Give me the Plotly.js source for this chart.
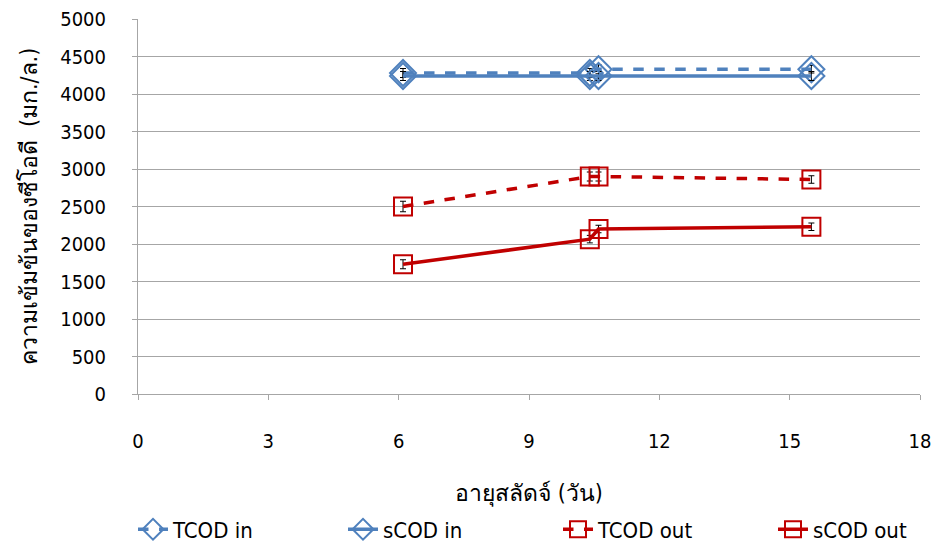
<!DOCTYPE html>
<html>
<head>
<meta charset="utf-8">
<script src="https://cdn.plot.ly/plotly-3.0.1.min.js"></script>
<style>html,body{margin:0;padding:0;background:#fff}#chart{width:936px;height:543px}</style>
</head>
<body>
<div id="chart"></div>
<script>
// Sludge age (days)
const sludgeAge = [6.1, 10.4, 10.6, 15.5];
const tcodIn  = [4280, 4280, 4330, 4330];
const scodIn  = [4240, 4240, 4240, 4240];
const tcodOut = [2500, 2900, 2900, 2860];
const scodOut = [1730, 2065, 2200, 2230];
const tcodInErr  = [60, 60, 60, 50];
const scodInErr  = [60, 60, 60, 60];
const tcodOutErr = [70, 60, 60, 50];
const scodOutErr = [60, 50, 50, 50];
const seriesNames = ['TCOD in', 'sCOD in', 'TCOD out', 'sCOD out'];
const xTicks = [0, 3, 6, 9, 12, 15, 18];
const yTicks = [0, 500, 1000, 1500, 2000, 2500, 3000, 3500, 4000, 4500, 5000];

const blue = '#4F81BD', red = '#C00000';
const FONT = 'Tahoma, "DejaVu Sans Condensed", "DejaVu Sans", sans-serif';
function err(a){return {type:'data', array:a, visible:true, color:'#000', thickness:1, width:3};}
function tr(y, e, name, color, dash, sym, size, lg){
  return {x: sludgeAge, y: y, name: name, type:'scatter', mode:'lines+markers', legend: lg,
    line:{color:color, width:3.5, dash:dash},
    marker:{symbol:sym, size:size, color:color, line:{color:color, width:2}},
    error_y: err(e)};
}
const data = [
  tr(tcodIn, tcodInErr, seriesNames[0], blue, 'dash', 'diamond-open', 20, 'legend'),
  tr(scodIn, scodInErr, seriesNames[1], blue, 'solid', 'diamond-open', 20, 'legend2'),
  tr(tcodOut, tcodOutErr, seriesNames[2], red, 'dash', 'square-open', 18, 'legend3'),
  tr(scodOut, scodOutErr, seriesNames[3], red, 'solid', 'square-open', 18, 'legend4')
];
function lg(px){
  return {orientation:'h', xref:'container', yref:'container', x:px/936, xanchor:'left',
    y:0.025, yanchor:'middle', font:{size:22}};
}
const layout = {
  width: 936, height: 543,
  margin: {l:138, r:16, t:19, b:149, autoexpand:false},
  paper_bgcolor:'#fff', plot_bgcolor:'#fff',
  font: {family: FONT, size: 20, color:'#000'},
  showlegend: true,
  legend: lg(133), legend2: lg(343), legend3: lg(558), legend4: lg(773),
  xaxis: {range:[0,18], tickvals:xTicks, ticktext:xTicks.map(String), showgrid:false,
    zeroline:false, showline:true, linecolor:'#A6A6A6', linewidth:1,
    ticks:'outside', ticklen:5, tickcolor:'#A6A6A6', ticklabelstandoff: 24,
    title:{text:'อายุสลัดจ์ (วัน)', font:{size:23}, standoff: 32}},
  yaxis: {range:[0,5000], tickvals:yTicks, ticktext:yTicks.map(String), showgrid:true,
    gridcolor:'#A6A6A6', gridwidth:1, zeroline:false, showline:true, linecolor:'#A6A6A6',
    ticks:'outside', ticklen:5, tickcolor:'#A6A6A6', ticklabelstandoff: 22,
    title:{text:'ความเข้มข้นของซีโอดี  (มก./ล.)', font:{size:23}, standoff: 16}}
};
Plotly.newPlot('chart', data, layout, {displayModeBar:false, staticPlot:true});
</script>
</body>
</html>
